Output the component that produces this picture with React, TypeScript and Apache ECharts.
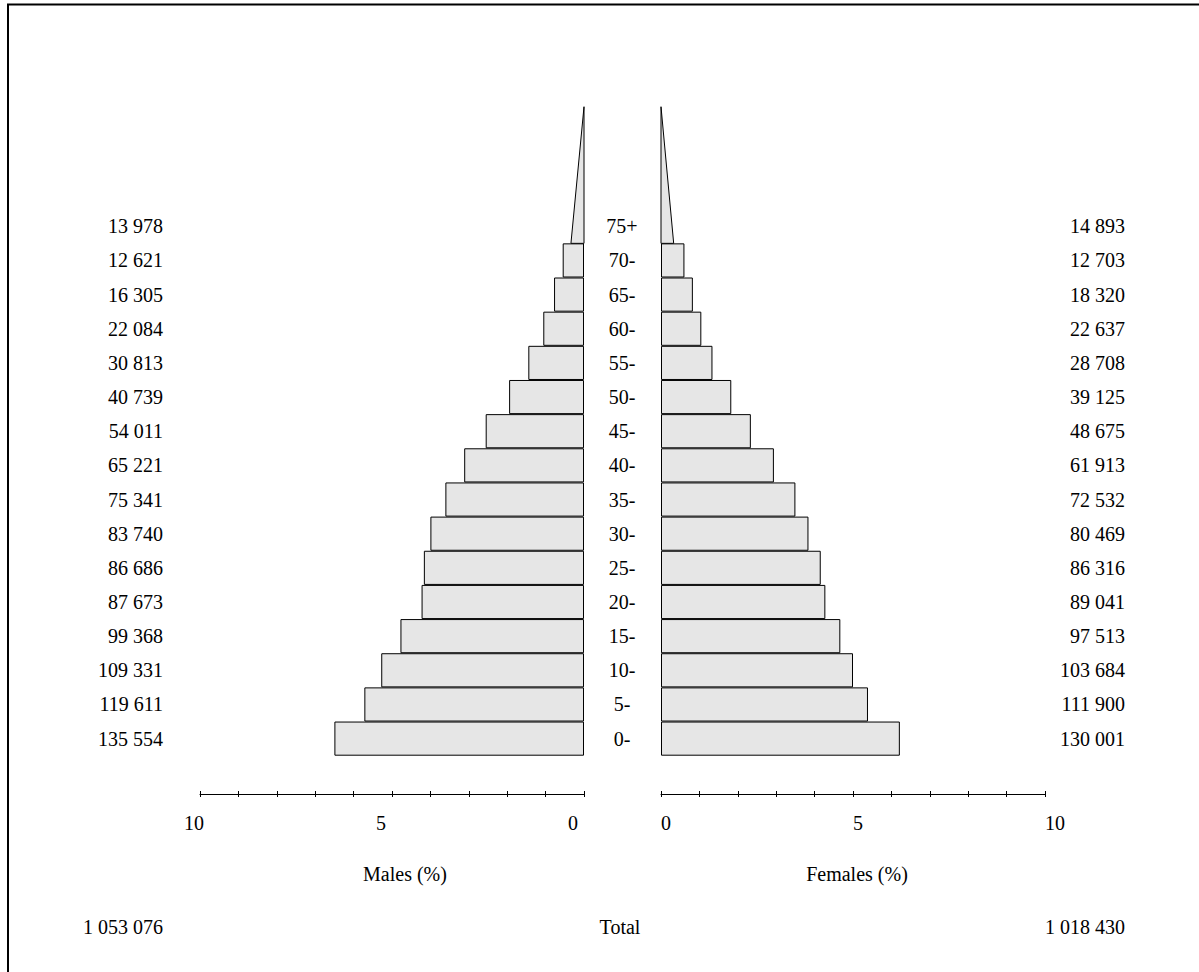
import React, { useEffect, useRef } from "react";
import * as echarts from "echarts";

// Age groups, bottom to top
const ageGroups = ["0-", "5-", "10-", "15-", "20-", "25-", "30-", "35-", "40-", "45-", "50-", "55-", "60-", "65-", "70-", "75+"];
// Population counts (labels)
const maleCounts = [135554, 119611, 109331, 99368, 87673, 86686, 83740, 75341, 65221, 54011, 40739, 30813, 22084, 16305, 12621, 13978];
const femaleCounts = [130001, 111900, 103684, 97513, 89041, 86316, 80469, 72532, 61913, 48675, 39125, 28708, 22637, 18320, 12703, 14893];
// Share of total population (%)
const malePct = [6.5, 5.72, 5.28, 4.78, 4.23, 4.17, 4.0, 3.61, 3.12, 2.56, 1.95, 1.45, 1.06, 0.78, 0.555, 0.68];
const femalePct = [6.22, 5.39, 5.0, 4.67, 4.28, 4.16, 3.84, 3.5, 2.94, 2.34, 1.83, 1.34, 1.05, 0.83, 0.61, 0.66];
const totalMales = 1053076;
const totalFemales = 1018430;
const axisTicks = [0, 5, 10];

const FONT = "'Liberation Serif', 'Times New Roman', serif";
const FILL = "#e6e6e6";

const fmt = (n: number) => String(n).replace(/\B(?=(\d{3})+(?!\d))/g, " ");

export default function App() {
  const ref = useRef<HTMLDivElement>(null);
  useEffect(() => {
    if (!ref.current) return;
    const chart = echarts.init(ref.current, undefined, { renderer: "svg" });
    const last = ageGroups.length - 1;
    const barData = (arr: number[]) => arr.map((v, i) => (i === last ? null : v));
    const triangle = (params: any, api: any) => {
      const v = api.value(0);
      const cat = api.value(1);
      const p0 = api.coord([0, cat]);
      const p1 = api.coord([v / 2, cat]);
      const bw = api.size([0, 1])[1];
      const baseY = p0[1] + bw / 2;
      const apexY = baseY - 4 * bw;
      return {
        type: "polygon",
        shape: { points: [[p0[0], baseY], [p1[0], baseY], [p0[0], apexY]] },
        style: { fill: FILL, stroke: "#000", lineWidth: 1 },
      };
    };
    const textStyle = { fontFamily: FONT, fontSize: 20, color: "#000" };
    const xBase = (grid: number, inverse: boolean, male: boolean) => ({
      type: "value",
      gridIndex: grid,
      min: 0,
      max: 10,
      interval: 1,
      inverse,
      position: "bottom",
      offset: 38.3,
      splitLine: { show: false },
      axisLine: { show: true, lineStyle: { color: "#000", width: 1 } },
      axisTick: { show: true, length: 3, lineStyle: { color: "#000" } },
      axisLabel: male
        ? {
            ...textStyle,
            margin: 19,
            formatter: (v: number) => (axisTicks.includes(v) ? `{a|${v}}` : ""),
            rich: { a: { ...textStyle, width: 32, align: "left" } },
          }
        : {
            ...textStyle,
            margin: 19,
            align: "left",
            formatter: (v: number) => (axisTicks.includes(v) ? String(v) : ""),
          },
      name: male ? "Males (%)" : "Females (%)",
      nameLocation: "middle",
      nameGap: 70,
      nameTextStyle: { ...textStyle, padding: male ? [0, 0, 0, 26] : [0, 0, 0, 8] },
    });
    const xInner = (grid: number, inverse: boolean) => ({
      type: "value",
      gridIndex: grid,
      min: 0,
      max: 10,
      interval: 1,
      inverse,
      position: "bottom",
      offset: 38.3,
      splitLine: { show: false },
      axisLine: { show: false },
      axisTick: { show: true, inside: true, length: 3, lineStyle: { color: "#000" } },
      axisLabel: { show: false },
    });
    chart.setOption({
      animation: false,
      backgroundColor: "#fff",
      grid: [
        { left: 200, top: 209.2, width: 384, height: 546.5 },
        { left: 661, top: 209.2, width: 384, height: 546.5 },
      ],
      xAxis: [xBase(0, true, true), xBase(1, false, false), xInner(0, true), xInner(1, false)],
      yAxis: [
        {
          type: "category",
          gridIndex: 0,
          data: ageGroups,
          position: "left",
          axisLine: { show: false },
          axisTick: { show: false },
          axisLabel: { ...textStyle, margin: 37, formatter: (_v: string, i: number) => fmt(maleCounts[i]) },
        },
        {
          type: "category",
          gridIndex: 1,
          data: ageGroups,
          position: "left",
          axisLine: { show: false },
          axisTick: { show: false },
          axisLabel: { ...textStyle, margin: 39, align: "center" },
        },
        {
          type: "category",
          gridIndex: 1,
          data: ageGroups,
          position: "right",
          axisLine: { show: false },
          axisTick: { show: false },
          axisLabel: { ...textStyle, margin: 80, align: "right", formatter: (_v: string, i: number) => fmt(femaleCounts[i]) },
        },
      ],
      series: [
        {
          type: "bar",
          xAxisIndex: 0,
          yAxisIndex: 0,
          data: barData(malePct),
          barWidth: "100%",
          itemStyle: { color: FILL, borderColor: "#000", borderWidth: 1 },
        },
        {
          type: "bar",
          xAxisIndex: 1,
          yAxisIndex: 1,
          data: barData(femalePct),
          barWidth: "100%",
          itemStyle: { color: FILL, borderColor: "#000", borderWidth: 1 },
        },
        {
          type: "custom",
          xAxisIndex: 0,
          yAxisIndex: 0,
          clip: false,
          renderItem: triangle,
          data: [[malePct[last], last]],
        },
        {
          type: "custom",
          xAxisIndex: 1,
          yAxisIndex: 1,
          clip: false,
          renderItem: triangle,
          data: [[femalePct[last], last]],
        },
      ],
      graphic: [
        {
          type: "rect",
          shape: { x: 8, y: 4.5, width: 1400, height: 1100 },
          style: { fill: "none", stroke: "#000", lineWidth: 2 },
          silent: true,
        },
        {
          type: "text",
          x: 163,
          y: 927,
          style: { text: fmt(totalMales), font: `20px ${FONT}`, fill: "#000", textAlign: "right", textVerticalAlign: "middle" },
        },
        {
          type: "text",
          x: 620,
          y: 927,
          style: { text: "Total", font: `20px ${FONT}`, fill: "#000", textAlign: "center", textVerticalAlign: "middle" },
        },
        {
          type: "text",
          x: 1125,
          y: 927,
          style: { text: fmt(totalFemales), font: `20px ${FONT}`, fill: "#000", textAlign: "right", textVerticalAlign: "middle" },
        },
      ],
    });
    return () => chart.dispose();
  }, []);
  return <div ref={ref} style={{ position: "absolute", left: 0, top: 0, width: 1199, height: 972 }} />;
}
